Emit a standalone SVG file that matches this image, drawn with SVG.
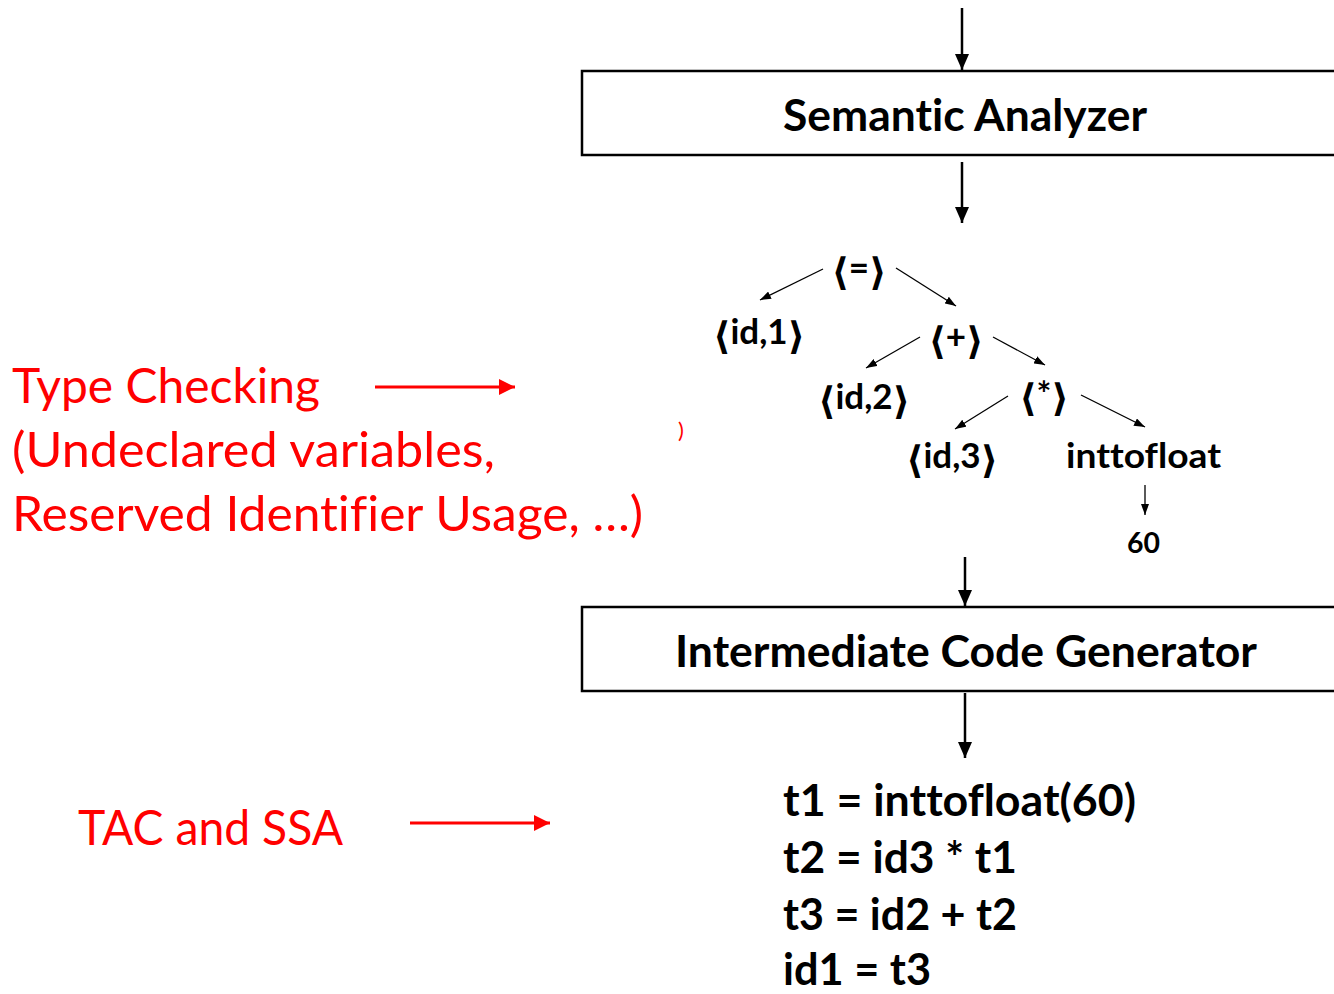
<svg xmlns="http://www.w3.org/2000/svg" width="1334" height="994" viewBox="0 0 1334 994">
  <defs>
    <style>
      text { font-variant-ligatures: none; font-feature-settings: "liga" 0, "clig" 0; }
      .box { fill: #ffffff; stroke: #000000; stroke-width: 2.5; }
      .title { font-family: Lato, "DejaVu Sans", sans-serif; font-weight: 700; font-size: 43px; fill: #000000; }
      .code { font-family: Lato, "DejaVu Sans", sans-serif; font-weight: 700; font-size: 43px; fill: #000000; }
      .tree { font-family: Lato, "DejaVu Sans", sans-serif; font-weight: 700; font-size: 35px; fill: #000000; }
      .br { font-family: "DejaVu Sans", sans-serif; font-weight: 700; font-size: 38px; }
      .leaf { font-family: Lato, "DejaVu Sans", sans-serif; font-weight: 700; font-size: 29px; fill: #000000; }
      .note { font-family: Lato, "DejaVu Sans", sans-serif; font-weight: 400; font-size: 47.5px; fill: #ff0000; }
      .flow { stroke: #000000; stroke-width: 2.5; fill: none; }
      .edge { stroke: #000000; stroke-width: 1.3; fill: none; }
      .hint { stroke: #ff0000; stroke-width: 3; fill: none; }
    </style>
    <marker id="headBig" markerUnits="userSpaceOnUse" markerWidth="16" markerHeight="14" refX="16" refY="7" orient="auto">
      <path d="M0,0 L16,7 L0,14 Z" fill="#000000"/>
    </marker>
    <marker id="headSmall" markerUnits="userSpaceOnUse" markerWidth="11" markerHeight="8" refX="11" refY="4" orient="auto">
      <path d="M0,0 L11,4 L0,8 Z" fill="#000000"/>
    </marker>
    <marker id="headRed" markerUnits="userSpaceOnUse" markerWidth="16" markerHeight="16" refX="16" refY="8" orient="auto">
      <path d="M0,0 L16,8 L0,16 Z" fill="#ff0000"/>
    </marker>
  </defs>

  <rect width="1334" height="994" fill="#ffffff"/>

  <!-- pipeline arrows, tree edges and annotation pointers -->
  <g id="connectors">
    <line class="flow" x1="962" y1="8" x2="962" y2="70" marker-end="url(#headBig)"/>
    <line class="flow" x1="962" y1="162" x2="962" y2="223" marker-end="url(#headBig)"/>
    <line class="flow" x1="965" y1="557" x2="965" y2="606" marker-end="url(#headBig)"/>
    <line class="flow" x1="965" y1="693" x2="965" y2="758" marker-end="url(#headBig)"/>

    <line class="edge" x1="823" y1="269" x2="760" y2="300" marker-end="url(#headSmall)"/>
    <line class="edge" x1="896" y1="268" x2="956" y2="306" marker-end="url(#headSmall)"/>
    <line class="edge" x1="920" y1="337" x2="866" y2="368" marker-end="url(#headSmall)"/>
    <line class="edge" x1="993" y1="337" x2="1045" y2="365" marker-end="url(#headSmall)"/>
    <line class="edge" x1="1008" y1="396" x2="955" y2="429" marker-end="url(#headSmall)"/>
    <line class="edge" x1="1081" y1="395" x2="1145" y2="427" marker-end="url(#headSmall)"/>
    <line class="edge" x1="1145" y1="485" x2="1145" y2="515" marker-end="url(#headSmall)"/>

    <line class="hint" x1="375" y1="387" x2="515" y2="387" marker-end="url(#headRed)"/>
    <line class="hint" x1="410" y1="823" x2="550" y2="823" marker-end="url(#headRed)"/>
  </g>

  <g id="semantic-analyzer">
    <rect class="box" x="582" y="71" width="760" height="84"/>
    <text class="title" x="783" y="131" textLength="364" lengthAdjust="spacingAndGlyphs">Semantic Analyzer</text>
  </g>

  <!-- syntax tree after semantic analysis -->
  <g id="node-assign"><text class="tree" x="859" y="280" text-anchor="middle"><tspan class="br" baseline-shift="-5">⟨</tspan>=<tspan class="br" baseline-shift="-5">⟩</tspan></text></g>
  <g id="node-id1"><text class="tree" x="759" y="344" text-anchor="middle"><tspan class="br" baseline-shift="-5">⟨</tspan>id,1<tspan class="br" baseline-shift="-5">⟩</tspan></text></g>
  <g id="node-plus"><text class="tree" x="956" y="349" text-anchor="middle"><tspan class="br" baseline-shift="-5">⟨</tspan>+<tspan class="br" baseline-shift="-5">⟩</tspan></text></g>
  <g id="node-id2"><text class="tree" x="864" y="409" text-anchor="middle"><tspan class="br" baseline-shift="-5">⟨</tspan>id,2<tspan class="br" baseline-shift="-5">⟩</tspan></text></g>
  <g id="node-mul"><text class="tree" x="1044" y="406" text-anchor="middle"><tspan class="br" baseline-shift="-5">⟨</tspan>*<tspan class="br" baseline-shift="-5">⟩</tspan></text></g>
  <g id="node-id3"><text class="tree" x="952" y="468" text-anchor="middle"><tspan class="br" baseline-shift="-5">⟨</tspan>id,3<tspan class="br" baseline-shift="-5">⟩</tspan></text></g>
  <g id="node-inttofloat"><text class="tree" x="1066" y="468" textLength="155" lengthAdjust="spacingAndGlyphs">inttofloat</text></g>
  <g id="node-60"><text class="leaf" x="1127" y="553" textLength="33" lengthAdjust="spacingAndGlyphs">60</text></g>

  <g id="intermediate-code-generator">
    <rect class="box" x="582" y="607" width="760" height="84"/>
    <text class="title" x="675" y="667" textLength="582" lengthAdjust="spacingAndGlyphs">Intermediate Code Generator</text>
  </g>

  <g id="three-address-code">
    <text class="code" x="783" y="816" textLength="353" lengthAdjust="spacingAndGlyphs">t1 = inttofloat(60)</text>
    <text class="code" x="783" y="873" textLength="234" lengthAdjust="spacingAndGlyphs">t2 = id3 * t1</text>
    <text class="code" x="783" y="930" textLength="234" lengthAdjust="spacingAndGlyphs">t3 = id2 + t2</text>
    <text class="code" x="783" y="985" textLength="148" lengthAdjust="spacingAndGlyphs">id1 = t3</text>
  </g>

  <g id="note-type-checking">
    <text class="note" x="12" y="403" textLength="308" lengthAdjust="spacingAndGlyphs">Type Checking</text>
    <text class="note" x="12" y="467" textLength="483" lengthAdjust="spacingAndGlyphs">(Undeclared variables,</text>
    <text class="note" x="12" y="531" textLength="631" lengthAdjust="spacingAndGlyphs">Reserved Identifier Usage, …)</text>
    <text class="note" x="681" y="438" text-anchor="middle" style="font-size:22px">)</text>
  </g>

  <g id="note-tac-ssa">
    <text class="note" x="78" y="845" textLength="265" lengthAdjust="spacingAndGlyphs">TAC and SSA</text>
  </g>
</svg>
